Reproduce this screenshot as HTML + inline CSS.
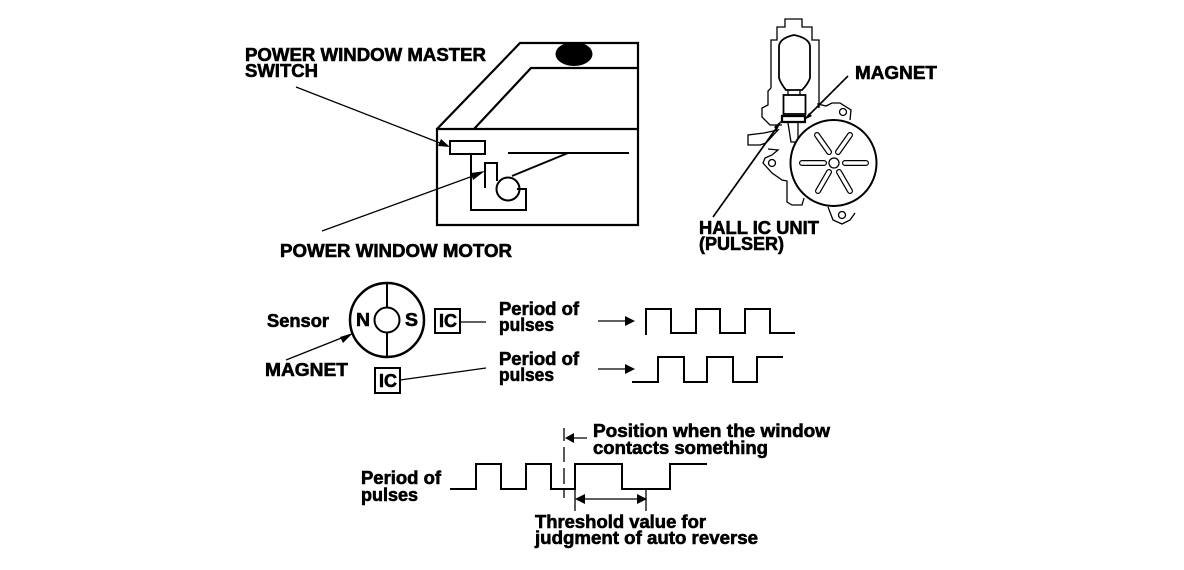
<!DOCTYPE html>
<html><head><meta charset="utf-8"><style>
html,body{margin:0;padding:0;background:#fff;width:1184px;height:570px;overflow:hidden}
svg{display:block}
text{font-family:"Liberation Sans",sans-serif;font-weight:bold;font-size:18px;fill:#000;stroke:#000;stroke-width:.6px}
.l{fill:none;stroke:#000;stroke-width:2}
.t{fill:none;stroke:#000;stroke-width:1.3}
.a{fill:#000;stroke:none}
</style></head><body>
<svg width="1184" height="570" viewBox="0 0 1184 570" xmlns="http://www.w3.org/2000/svg" shape-rendering="crispEdges">
<!-- door -->
<g shape-rendering="auto">
<path class="l" d="M437 129L520 43H638V225H437V129H638M474 129L531 68H638" style="stroke-width:2.2"/>
<ellipse cx="574" cy="54" rx="18.500" ry="12" fill="#000"/>
<rect class="l" x="450" y="141" width="35" height="13"/>
<path class="l" d="M508 153H629M512 176L568 153"/>
<path class="l" d="M471 154V210H526V189H517M485 188V163H497V181"/>
<circle class="l" cx="508" cy="189" r="11.500"/>
<path class="t" d="M296 87L440 143M322 231L473 176"/>
<path class="a" d="M450 147L438 146L441 139ZM485 171L473 180L471 173Z"/>
<!-- motor housing -->
<path class="t" d="M771 88V40H777V27H785V19H802V27H812V40H819V108M771 88L768 91V105L762 108V117L770 125H782"/>
<path class="t" d="M819 108L818 104L826 106L832 103L840 103L851 110L850 120M748 135V145H760L766 143L778 130L764 133ZM768 149L778 150L772 155L765 158L763 163L772 173L782 180L787 181V202L792 205H802L804 198"/>
<path class="t" d="M828 207L833 220L842 224L850 220L855 213"/>
<circle class="t" cx="843" cy="112" r="3.500"/><circle class="t" cx="772" cy="163" r="3.500"/><circle class="t" cx="842" cy="215" r="3.500"/>
<path class="l" d="M779 46Q780 38 794 35Q809 38 810 46V78Q808 84 802 90H786Q781 84 779 78Z" style="stroke-width:1.800"/>
<rect class="l" x="783.500" y="95" width="22" height="19" style="stroke-width:1.800"/>
<path class="t" d="M788 90V95M800 90V95"/>
<path class="l" d="M782 116H805V122H782Z" style="stroke-width:2.200"/>
<path class="t" d="M788 123L791 142H798V123"/>
<circle cx="833.500" cy="163" r="43" fill="#fff" stroke="#000" stroke-width="2"/>
<circle class="t" cx="834" cy="163" r="5"/>
<g fill="none" stroke-linecap="round">
<path stroke="#000" stroke-width="6" d="M802 163H824M845 163H866M817 135L829 152M850 135L838 152M829 172L818 191M839 172L850 191"/>
<path stroke="#fff" stroke-width="3.600" d="M802 163H824M845 163H866M817 135L829 152M850 135L838 152M829 172L818 191M839 172L850 191"/>
</g>
<path class="t" d="M848 76L807 117" style="stroke-width:1.700"/>
<path class="t" d="M780 123L713 217" style="stroke-width:1.700"/>
<path class="a" d="M804 120L809 113L812 116ZM782 120L777 130L774 127Z"/>
<!-- sensor -->
<circle cx="387" cy="320" r="37" class="l" style="stroke-width:2.500"/>
<circle cx="387" cy="320" r="12.500" class="l"/>
<path class="l" d="M387 283V308M387 332V357"/>
<rect x="435" y="309" width="25" height="24" class="l"/>
<rect x="375" y="368" width="25" height="25" class="l"/>
<path class="t" d="M460 322H486M400 380L486 368M286 360L349 335"/>
<path class="a" d="M353 333L343 343L340 337Z"/>
<!-- pulses -->
<path class="t" d="M598 321H626M598 369H626"/>
<path class="a" d="M635 321L625 316V326ZM635 369L625 364V374Z"/>
</g>
<path fill="none" stroke="#000" stroke-width="2" d="M646 335V309H671V333H696V309H720V333H745V309H770V333H795"/>
<path fill="none" stroke="#000" stroke-width="2" d="M632 382H658V357H684V382H707V357H733V382H757V357H783"/>
<path fill="none" stroke="#000" stroke-width="2" d="M450 489H476V464H501V489H526V464H551V489H575V464H622V489H670V464H707"/>
<g shape-rendering="auto">
<path class="t" d="M564 428V441M564 447V462M564 468V484M564 490V498M573 438H587M575 490V511M646 490V511M582 499H640"/>
<path class="a" d="M565 438L574 433V443ZM575 499L585 494V504ZM647 499L637 494V504Z"/>
</g>
<!-- labels -->
<text x="245" y="61" textLength="241" lengthAdjust="spacingAndGlyphs">POWER WINDOW MASTER</text>
<text x="245" y="77" textLength="73" lengthAdjust="spacingAndGlyphs">SWITCH</text>
<text x="280" y="257" textLength="232" lengthAdjust="spacingAndGlyphs">POWER WINDOW MOTOR</text>
<text x="855" y="79" textLength="82" lengthAdjust="spacingAndGlyphs">MAGNET</text>
<text x="699" y="234" textLength="120" lengthAdjust="spacingAndGlyphs">HALL IC UNIT</text>
<text x="699" y="250" textLength="85" lengthAdjust="spacingAndGlyphs">(PULSER)</text>
<text x="267" y="327" textLength="62" lengthAdjust="spacingAndGlyphs">Sensor</text>
<text x="265" y="376" textLength="83" lengthAdjust="spacingAndGlyphs">MAGNET</text>
<text x="356" y="326" textLength="14" lengthAdjust="spacingAndGlyphs">N</text>
<text x="405" y="326" textLength="13" lengthAdjust="spacingAndGlyphs">S</text>
<text x="439" y="327" textLength="18" lengthAdjust="spacingAndGlyphs">IC</text>
<text x="379" y="387" textLength="18" lengthAdjust="spacingAndGlyphs">IC</text>
<text x="499" y="315" textLength="80" lengthAdjust="spacingAndGlyphs">Period of</text>
<text x="499" y="331" textLength="55" lengthAdjust="spacingAndGlyphs">pulses</text>
<text x="499" y="365" textLength="80" lengthAdjust="spacingAndGlyphs">Period of</text>
<text x="499" y="381" textLength="55" lengthAdjust="spacingAndGlyphs">pulses</text>
<text x="593" y="437" textLength="237" lengthAdjust="spacingAndGlyphs">Position when the window</text>
<text x="593" y="454" textLength="175" lengthAdjust="spacingAndGlyphs">contacts something</text>
<text x="361" y="484" textLength="80" lengthAdjust="spacingAndGlyphs">Period of</text>
<text x="361" y="501" textLength="57" lengthAdjust="spacingAndGlyphs">pulses</text>
<text x="535" y="528" textLength="171" lengthAdjust="spacingAndGlyphs">Threshold value for</text>
<text x="535" y="544" textLength="223" lengthAdjust="spacingAndGlyphs">judgment of auto reverse</text>
</svg>
</body></html>
